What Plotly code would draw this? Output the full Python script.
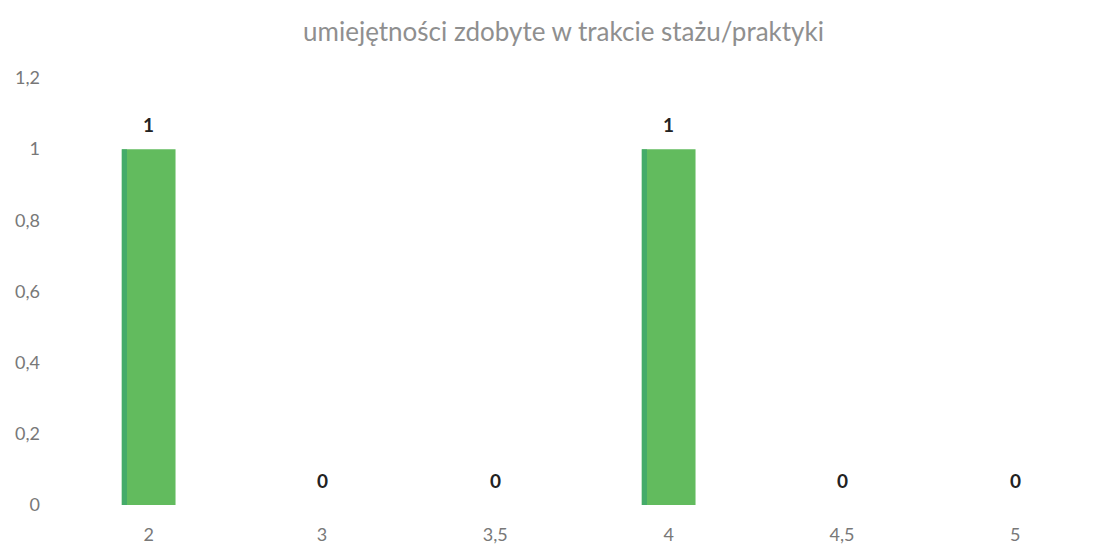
import plotly.graph_objects as go

categories = ["2", "3", "3,5", "4", "4,5", "5"]
values = [1, 0, 0, 1, 0, 0]
y_ticks = [0, 0.2, 0.4, 0.6, 0.8, 1.0, 1.2]
y_tick_labels = ["0", "0,2", "0,4", "0,6", "0,8", "1", "1,2"]
title_text = "umiejętności zdobyte w trakcie stażu/praktyki"

BAR_W = 0.31
fig = go.Figure()
fig.add_trace(go.Bar(
    x=categories, y=values,
    marker=dict(color="#62bb5e", line=dict(width=0)),
    width=BAR_W, offset=-BAR_W / 2,
    hoverinfo="skip",
))
# slightly darker left edge of each bar
fig.add_trace(go.Bar(
    x=categories, y=values,
    marker=dict(color="#3ea86c", line=dict(width=0)),
    width=0.03, offset=-BAR_W / 2,
    opacity=0.8,
    hoverinfo="skip",
))

for i, v in enumerate(values):
    fig.add_annotation(
        x=i, y=v, text=f"<b>{v}</b>", showarrow=False,
        yanchor="bottom", yshift=11,
        font=dict(family="Lato, Liberation Sans, sans-serif", size=19, color="#222222"),
    )

fig.update_layout(
    width=1111, height=552,
    margin=dict(l=54, r=17, t=70, b=55),
    barmode="overlay",
    paper_bgcolor="white", plot_bgcolor="white",
    title=dict(text=title_text, x=0.5, xanchor="center", y=0.956, yanchor="middle",
               font=dict(family="Lato, Open Sans, sans-serif", size=26, color="#8f8f8f")),
    showlegend=False,
    xaxis=dict(type="category", showgrid=False, showline=False, zeroline=False,
               automargin=False,
               ticks="", tickfont=dict(family="Lato, sans-serif", size=18, color="#787878"),
               ticklabelstandoff=17),
    yaxis=dict(range=[0, 1.2], tickvals=y_ticks, ticktext=y_tick_labels,
               automargin=False,
               showgrid=False, zeroline=False, showline=False, ticks="",
               tickfont=dict(family="Lato, sans-serif", size=18, color="#787878"),
               ticklabelstandoff=21),
)

fig.write_html("out.html")
